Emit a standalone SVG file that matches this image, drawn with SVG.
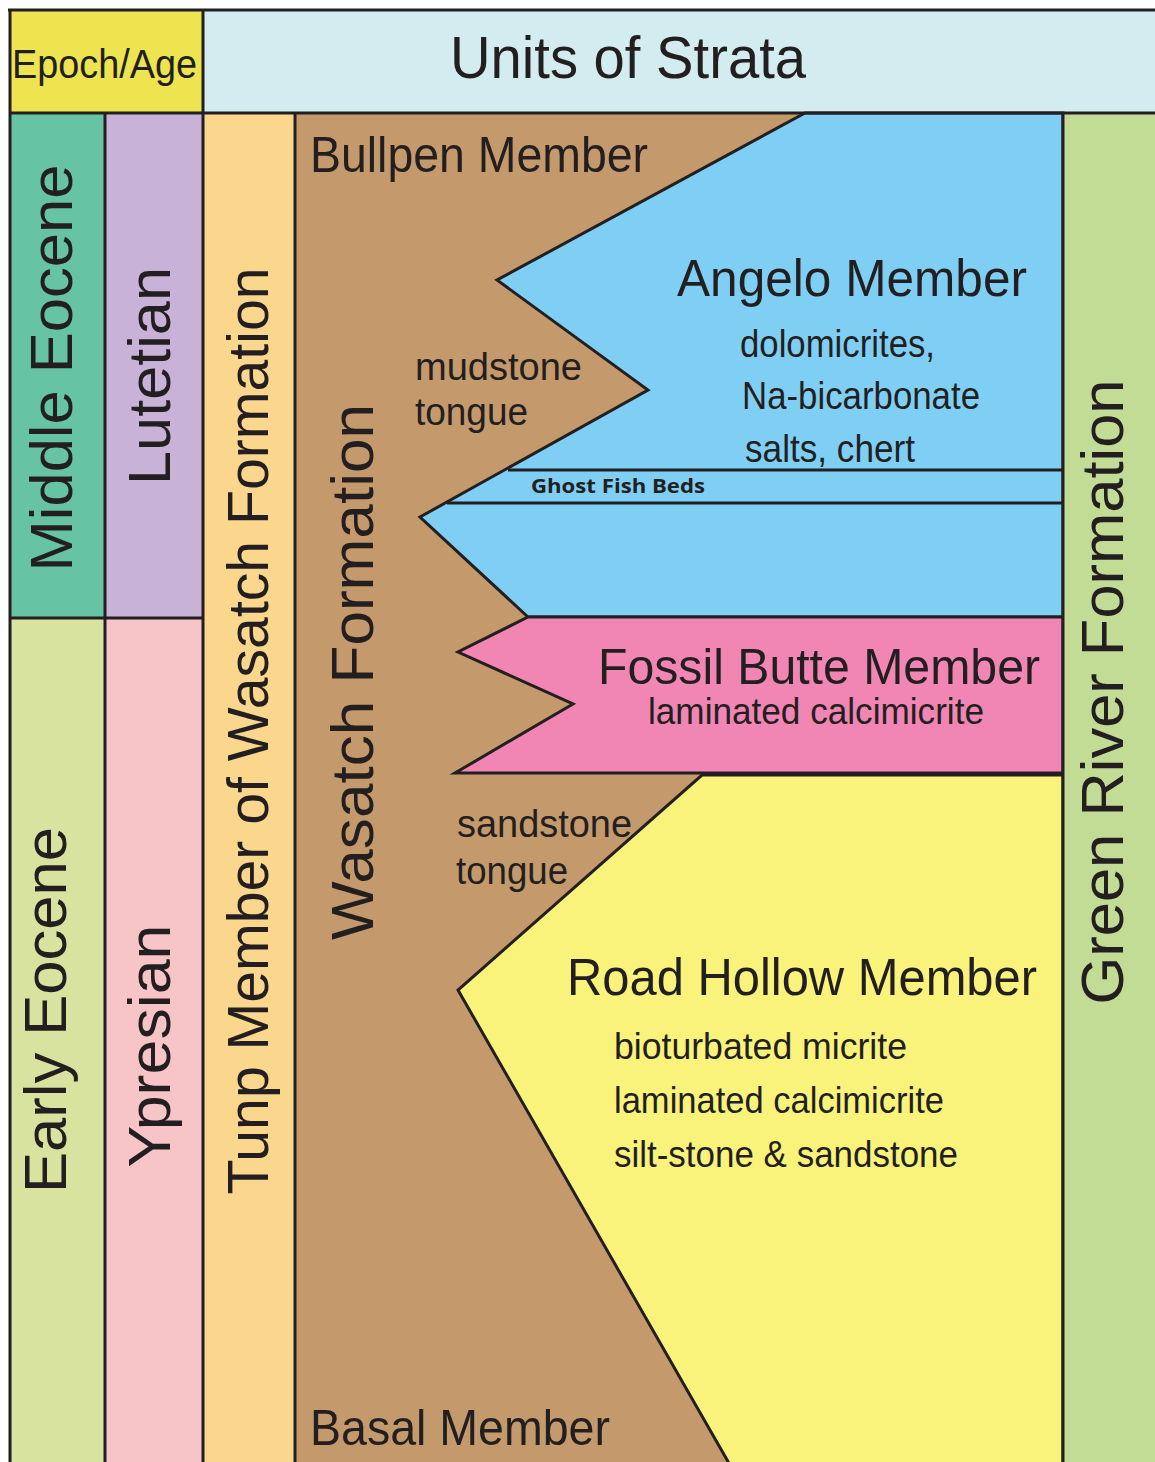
<svg xmlns="http://www.w3.org/2000/svg" width="1155" height="1462" viewBox="0 0 1155 1462">
<style>
.ln{stroke:#231f20;stroke-width:3;fill:none}
.sh{stroke:#231f20;stroke-width:3;stroke-linejoin:miter}
.t{font-family:"Liberation Sans",Arial,sans-serif;fill:#231f20}
.gb{font-family:"Open Sans","Liberation Sans",sans-serif;font-weight:bold;fill:#231f20}
</style>
<rect width="1155" height="1462" fill="#ffffff"/>
<g id="header">
<rect x="10" y="10" width="193" height="103" fill="#ede450"/>
<rect x="203" y="10" width="952" height="103" fill="#d3ecef"/>
<text class="t" x="12" y="78" font-size="40" textLength="185" lengthAdjust="spacingAndGlyphs">Epoch/Age</text>
<text class="t" x="628" y="78" font-size="60" text-anchor="middle" textLength="356" lengthAdjust="spacingAndGlyphs">Units of Strata</text>
</g>
<g id="epochs">
<rect x="10" y="113" width="95" height="505" fill="#66c4a4"/>
<rect x="10" y="618" width="95" height="844" fill="#d7e39f"/>
<text class="t" transform="translate(72,368) rotate(-90)" font-size="60" text-anchor="middle" textLength="407" lengthAdjust="spacingAndGlyphs">Middle Eocene</text>
<text class="t" transform="translate(66,1010) rotate(-90)" font-size="60" text-anchor="middle" textLength="366" lengthAdjust="spacingAndGlyphs">Early Eocene</text>
</g>
<g id="ages">
<rect x="105" y="113" width="98" height="505" fill="#c9b2d8"/>
<rect x="105" y="618" width="98" height="844" fill="#f7c5c8"/>
<text class="t" transform="translate(170,376) rotate(-90)" font-size="60" text-anchor="middle" textLength="218" lengthAdjust="spacingAndGlyphs">Lutetian</text>
<text class="t" transform="translate(170,1046) rotate(-90)" font-size="60" text-anchor="middle" textLength="243" lengthAdjust="spacingAndGlyphs">Ypresian</text>
</g>
<g id="tunp">
<rect x="203" y="113" width="92" height="1349" fill="#fbd78e"/>
<text class="t" transform="translate(268,731) rotate(-90)" font-size="58" text-anchor="middle" textLength="927" lengthAdjust="spacingAndGlyphs">Tunp Member of Wasatch Formation</text>
</g>
<g id="wasatch">
<rect x="295" y="113" width="768" height="1349" fill="#c49a6c"/>
<text class="t" transform="translate(373,672) rotate(-90)" font-size="60" text-anchor="middle" textLength="536" lengthAdjust="spacingAndGlyphs">Wasatch Formation</text>
<text class="t" x="310" y="172" font-size="50" textLength="338" lengthAdjust="spacingAndGlyphs">Bullpen Member</text>
<text class="t" x="310" y="1445" font-size="50" textLength="300" lengthAdjust="spacingAndGlyphs">Basal Member</text>
<text class="t" x="415" y="380" font-size="38" textLength="167" lengthAdjust="spacingAndGlyphs">mudstone</text>
<text class="t" x="415" y="425" font-size="38" textLength="113" lengthAdjust="spacingAndGlyphs">tongue</text>
<text class="t" x="457" y="837" font-size="38" textLength="175" lengthAdjust="spacingAndGlyphs">sandstone</text>
<text class="t" x="456" y="884" font-size="38" textLength="112" lengthAdjust="spacingAndGlyphs">tongue</text>
</g>
<g id="angelo">
<polygon class="sh" fill="#7fcff5" points="805,113 1063,113 1063,617 528,617 420,517 648,390 497,280"/>
<text class="t" x="677" y="296" font-size="52" textLength="350" lengthAdjust="spacingAndGlyphs">Angelo Member</text>
<text class="t" x="740" y="357" font-size="38" textLength="195" lengthAdjust="spacingAndGlyphs">dolomicrites,</text>
<text class="t" x="742" y="409" font-size="38" textLength="238" lengthAdjust="spacingAndGlyphs">Na-bicarbonate</text>
<text class="t" x="745" y="462" font-size="38" textLength="170" lengthAdjust="spacingAndGlyphs">salts, chert</text>
</g>
<g id="ghost-fish">
<line class="ln" x1="508" y1="470" x2="1063" y2="470"/>
<line class="ln" x1="447" y1="503" x2="1063" y2="503"/>
<text class="gb" x="531" y="493" font-size="20" textLength="174" lengthAdjust="spacingAndGlyphs">Ghost Fish Beds</text>
</g>
<g id="fossil-butte">
<polygon class="sh" fill="#f186b5" points="528,617 1063,617 1063,773 455,773 573,704 458,652"/>
<text class="t" x="598" y="684" font-size="50" textLength="442" lengthAdjust="spacingAndGlyphs">Fossil Butte Member</text>
<text class="t" x="648" y="724" font-size="37" textLength="336" lengthAdjust="spacingAndGlyphs">laminated calcimicrite</text>
</g>
<g id="road-hollow">
<polygon class="sh" fill="#f9f37c" points="702,775 1063,775 1063,1465 730,1465 458,990"/>
<text class="t" x="567" y="995" font-size="52" textLength="470" lengthAdjust="spacingAndGlyphs">Road Hollow Member</text>
<text class="t" x="614" y="1059" font-size="37" textLength="293" lengthAdjust="spacingAndGlyphs">bioturbated micrite</text>
<text class="t" x="614" y="1113" font-size="37" textLength="330" lengthAdjust="spacingAndGlyphs">laminated calcimicrite</text>
<text class="t" x="614" y="1167" font-size="37" textLength="344" lengthAdjust="spacingAndGlyphs">silt-stone &amp; sandstone</text>
</g>
<g id="green-river">
<rect x="1063" y="113" width="92" height="1349" fill="#c2dc96"/>
<text class="t" transform="translate(1123,692) rotate(-90)" font-size="60" text-anchor="middle" textLength="625" lengthAdjust="spacingAndGlyphs">Green River Formation</text>
</g>
<g id="connectors">
<line class="ln" x1="8" y1="10" x2="1155" y2="10"/>
<line class="ln" x1="10" y1="10" x2="10" y2="1462"/>
<line class="ln" x1="10" y1="113" x2="1155" y2="113"/>
<line class="ln" x1="105" y1="113" x2="105" y2="1462"/>
<line class="ln" x1="203" y1="10" x2="203" y2="1462"/>
<line class="ln" x1="295" y1="113" x2="295" y2="1462"/>
<line class="ln" x1="1063" y1="113" x2="1063" y2="1462"/>
<line class="ln" x1="10" y1="618" x2="203" y2="618"/>
</g>
</svg>
